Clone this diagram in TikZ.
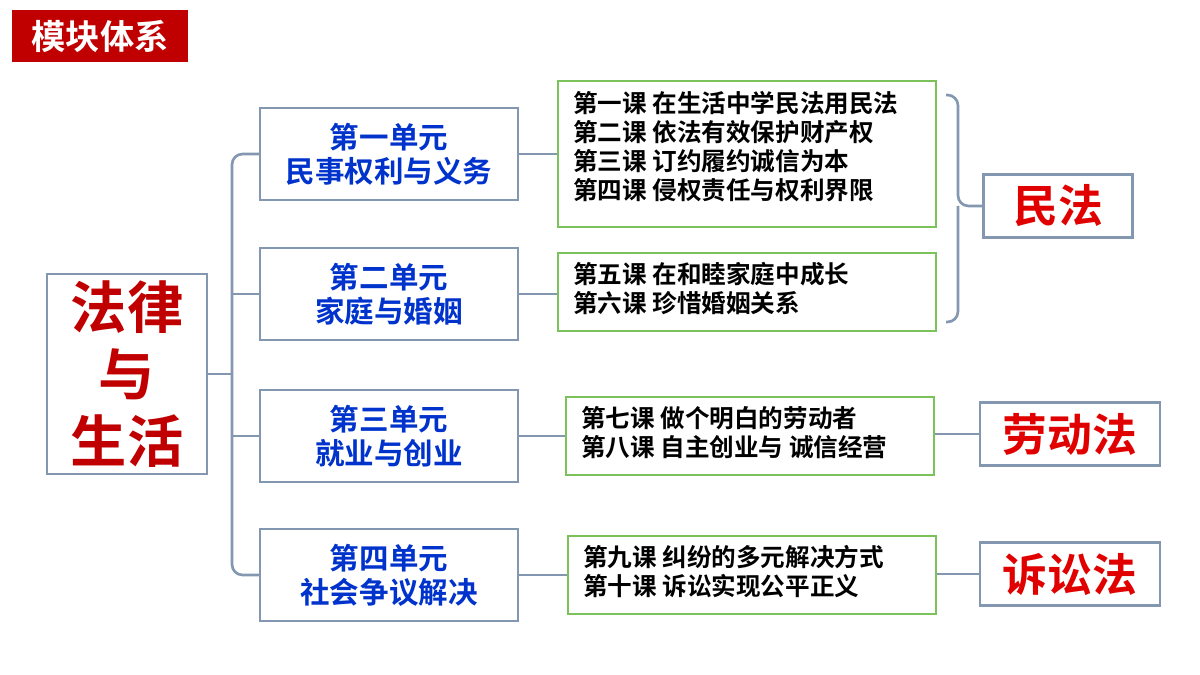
\documentclass[tikz,border=0pt]{standalone}
\usepackage{fontspec}
\setmainfont{Noto Sans CJK SC}[BoldFont={* Bold}]
\usetikzlibrary{positioning}
\definecolor{hdred}{HTML}{C00000}
\definecolor{lawred}{HTML}{E00000}
\definecolor{unitblue}{HTML}{0033CC}
\definecolor{boxgrey}{HTML}{8497B0}
\definecolor{lessgreen}{HTML}{7CC25A}
\tikzset{
  unitbox/.style={draw=boxgrey,line width=1.2pt,minimum width=5.16cm,minimum height=1.84cm,
    align=center,text=unitblue,font=\fontsize{16.8}{19.5}\selectfont\bfseries},
  lessbox/.style={draw=lessgreen,line width=1.2pt,anchor=north west,inner sep=0pt},
  lesstext/.style={font=\fontsize{14}{16.5}\selectfont\bfseries,align=left,anchor=west},
  lawbox/.style={draw=boxgrey,line width=1.2pt,text=lawred,font=\fontsize{25.5}{30}\selectfont\bfseries},
  link/.style={boxgrey,line width=1.5pt}
}
\begin{document}
\begin{tikzpicture}[x=0.02cm,y=-0.02cm]
\useasboundingbox (0,0) rectangle (1200,675);
% title
\node[fill=hdred,text=white,minimum width=3.52cm,minimum height=1.04cm,font=\fontsize{19.5}{22}\selectfont\bfseries] (title) at (100,36) {模块体系};
% main topic
\node[draw=boxgrey,line width=1.2pt,minimum width=3.2cm,minimum height=4cm,align=center,text=hdred,
  font=\fontsize{32}{38}\selectfont\bfseries] (law) at (127,374) {法律\\与\\生活};
% units
\node[unitbox] (u1) at (389,154) {第一单元\\民事权利与义务};
\node[unitbox] (u2) at (389,294) {第二单元\\家庭与婚姻};
\node[unitbox] (u3) at (389,436) {第三单元\\就业与创业};
\node[unitbox] (u4) at (389,575) {第四单元\\社会争议解决};
% lessons
\node[lessbox,minimum width=7.56cm,minimum height=2.92cm] (l1) at (557,80) {};
\node[lesstext] at (567,147)
  {第一课 在生活中学民法用民法\\第二课 依法有效保护财产权\\第三课 订约履约诚信为本\\第四课 侵权责任与权利界限};
\node[lessbox,minimum width=7.56cm,minimum height=1.56cm] (l2) at (557,252) {};
\node[lesstext] at (567,289) {第五课 在和睦家庭中成长\\第六课 珍惜婚姻关系};
\node[lessbox,minimum width=7.36cm,minimum height=1.56cm] (l3) at (565,396) {};
\node[lesstext] at (575,433) {第七课 做个明白的劳动者\\第八课 自主创业与 诚信经营};
\node[lessbox,minimum width=7.36cm,minimum height=1.56cm] (l4) at (567,535) {};
\node[lesstext] at (577,572) {第九课 纠纷的多元解决方式\\第十课 诉讼实现公平正义};
% laws
\node[lawbox,minimum width=2.98cm,minimum height=1.26cm] (civ) at (1058,206) {民法};
\node[lawbox,minimum width=3.6cm,minimum height=1.26cm] (lab) at (1070,434) {劳动法};
\node[lawbox,minimum width=3.6cm,minimum height=1.26cm] (lit) at (1070,574) {诉讼法};
% brackets
\draw[link,rounded corners=6pt] (u1.west) -- (232,154) -- (232,575) -- (u4.west);
\draw[link] (law.east) -- (232,374);
\draw[link] (u2.west) -- (232,294);
\draw[link] (u3.west) -- (232,436);
\draw[link,rounded corners=6pt] (946,95) -- (958,95) -- (958,206) -- (civ.west);
\draw[link,rounded corners=6pt] (946,322) -- (958,322) -- (958,206);
% connectors
\draw[link] (u1.east) -- (u1.east -| l1.west);
\draw[link] (u2.east) -- (u2.east -| l2.west);
\draw[link] (u3.east) -- (u3.east -| l3.west);
\draw[link] (u4.east) -- (u4.east -| l4.west);
\draw[link] (l3.east |- lab) -- (lab.west);
\draw[link] (l4.east |- lit) -- (lit.west);
\end{tikzpicture}
\end{document}
